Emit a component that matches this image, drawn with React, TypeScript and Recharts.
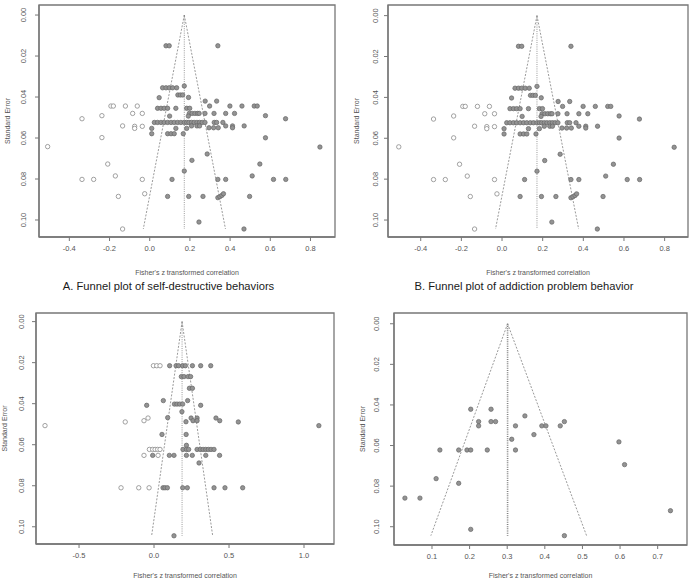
import React from 'react';
import { ScatterChart, Scatter, XAxis, YAxis, ReferenceLine, ReferenceArea } from 'recharts';

type Pt = [number, number];

// shared ticks
const seTicks = [0, 0.02, 0.04, 0.06, 0.08, 0.1];
const xTicksTop = [-0.4, -0.2, 0, 0.2, 0.4, 0.6, 0.8];
const xTicksC = [-0.5, 0, 0.5, 1.0];
const xTicksD = [0.1, 0.2, 0.3, 0.4, 0.5, 0.6, 0.7];

const titleA = 'A. Funnel plot of self-destructive behaviors';
const titleB = 'B. Funnel plot of addiction problem behavior';
const xLabel = "Fisher's z transformed correlation";
const yLabel = 'Standard Error';

// top row (A and B show the same set of studies)
const topStudies: Pt[] = [
  [0.081, 0.015], [0.097, 0.015], [0.339, 0.015],
  [0.064, 0.0355], [0.081, 0.0355], [0.097, 0.0355], [0.114, 0.0355], [0.134, 0.0355], [0.172, 0.0346],
  [0.140, 0.039], [0.152, 0.039], [0.164, 0.039],
  [0.047, 0.0403], [0.193, 0.0402], [0.276, 0.042], [0.333, 0.042],
  [0.298, 0.0444], [0.399, 0.0444], [0.459, 0.0444], [0.520, 0.0444], [0.535, 0.0444],
  [0.039, 0.0455], [0.056, 0.0455], [0.072, 0.0455], [0.089, 0.0455], [0.130, 0.0455], [0.184, 0.0455], [0.199, 0.0455],
  [0.197, 0.048], [0.211, 0.048], [0.225, 0.048], [0.238, 0.048], [0.246, 0.048], [0.275, 0.048], [0.320, 0.048], [0.378, 0.048], [0.422, 0.048],
  [0.099, 0.0493], [0.192, 0.0493], [0.576, 0.0491], [0.676, 0.0506],
  [0.023, 0.0524], [0.039, 0.0524], [0.056, 0.0524], [0.072, 0.0524], [0.089, 0.0524], [0.106, 0.0524], [0.122, 0.0524], [0.139, 0.0524], [0.155, 0.0524], [0.172, 0.0524],
  [0.184, 0.0524], [0.195, 0.0524], [0.208, 0.0524], [0.221, 0.0524], [0.235, 0.0524], [0.248, 0.0524], [0.261, 0.0524], [0.275, 0.0524], [0.321, 0.0524], [0.333, 0.0524], [0.364, 0.0524],
  [0.208, 0.0541], [0.235, 0.0541], [0.248, 0.0541], [0.378, 0.0541], [0.412, 0.0541], [0.470, 0.0541],
  [0.295, 0.055], [0.318, 0.055], [0.341, 0.055], [0.412, 0.055],
  [0.010, 0.0553], [0.130, 0.0553], [0.184, 0.0553],
  [0.010, 0.0579], [0.089, 0.0579], [0.106, 0.0579], [0.122, 0.0579], [0.167, 0.0579],
  [0.576, 0.0599], [0.847, 0.0644], [0.286, 0.0678], [0.210, 0.0709], [0.548, 0.0727], [0.172, 0.0761], [0.510, 0.0785],
  [0.111, 0.0802], [0.339, 0.0802], [0.378, 0.0802], [0.616, 0.0802], [0.677, 0.0802],
  [0.089, 0.0885], [0.194, 0.0885], [0.265, 0.0885], [0.497, 0.0885],
  [0.339, 0.0891], [0.349, 0.0886], [0.359, 0.088], [0.367, 0.0872],
  [0.245, 0.101], [0.469, 0.1044],
];
const topImputed: Pt[] = [
  [-0.508, 0.0642], [-0.337, 0.0506], [-0.238, 0.0491], [-0.238, 0.0598],
  [-0.193, 0.0444], [-0.181, 0.0444], [-0.121, 0.0444], [-0.062, 0.0444],
  [-0.085, 0.048], [-0.037, 0.048], [-0.135, 0.0541], [-0.075, 0.0543], [-0.075, 0.0553], [-0.037, 0.0543],
  [-0.209, 0.0727], [-0.337, 0.0802], [-0.279, 0.0802], [-0.171, 0.0785], [-0.037, 0.0802],
  [-0.156, 0.0885], [-0.025, 0.0872], [-0.135, 0.1044],
];
const topFunnel = { center: 0.172, left: -0.032, right: 0.377, bottom: 0.1044 };

// bottom left
const cStudies: Pt[] = [
  [0.104, 0.0215], [0.147, 0.0215], [0.164, 0.0215], [0.191, 0.0215], [0.209, 0.0215], [0.256, 0.0215], [0.311, 0.0215], [0.378, 0.0215],
  [0.182, 0.0268], [0.2, 0.0268], [0.227, 0.0268], [0.244, 0.0268],
  [0.236, 0.0325], [0.256, 0.0325],
  [0.062, 0.0385], [0.224, 0.0385],
  [0.136, 0.0402], [0.153, 0.0402], [0.171, 0.0402], [0.191, 0.0402],
  [-0.049, 0.0408], [0.311, 0.0408], [0.186, 0.0439],
  [0.091, 0.0468], [0.247, 0.047], [0.287, 0.047], [0.413, 0.047],
  [0.260, 0.0483], [0.287, 0.0483], [0.438, 0.0483],
  [0.213, 0.0488], [0.562, 0.0489], [1.099, 0.0507],
  [0.053, 0.055], [0.214, 0.055], [0.216, 0.0603],
  [0.193, 0.0623], [0.216, 0.0623], [0.231, 0.0623], [0.287, 0.0623], [0.309, 0.0623], [0.327, 0.0623], [0.345, 0.0623], [0.362, 0.0623], [0.380, 0.0623], [0.400, 0.0623],
  [-0.009, 0.0652], [0.102, 0.0652], [0.133, 0.0652], [0.216, 0.0652], [0.255, 0.0652], [0.345, 0.0652], [0.437, 0.0652],
  [0.300, 0.0689],
  [0.060, 0.081], [0.073, 0.081], [0.089, 0.081], [0.191, 0.081], [0.222, 0.081], [0.400, 0.081], [0.473, 0.081], [0.591, 0.081],
  [0.133, 0.1044],
];
const cImputed: Pt[] = [
  [-0.727, 0.0507], [-0.192, 0.0489], [-0.067, 0.0483], [-0.040, 0.047],
  [-0.004, 0.0215], [0.018, 0.0215], [0.040, 0.0215],
  [-0.031, 0.0623], [-0.009, 0.0623], [0.007, 0.0623], [0.024, 0.0623], [0.040, 0.0623],
  [-0.067, 0.0652], [0.027, 0.0652],
  [-0.220, 0.081], [-0.102, 0.081], [-0.033, 0.081],
];
const cFunnel = { center: 0.187, left: -0.016, right: 0.391, bottom: 0.1044 };

// bottom right
const dStudies: Pt[] = [
  [0.028, 0.0859], [0.068, 0.0859], [0.111, 0.0763], [0.121, 0.0622], [0.171, 0.0622], [0.171, 0.0786],
  [0.193, 0.0622], [0.203, 0.0622], [0.203, 0.0421], [0.203, 0.1013],
  [0.224, 0.0482], [0.224, 0.0503], [0.247, 0.0622], [0.257, 0.0421], [0.257, 0.0482], [0.269, 0.0482],
  [0.312, 0.0569], [0.322, 0.0503], [0.322, 0.0622], [0.347, 0.0454], [0.371, 0.0546],
  [0.392, 0.0503], [0.403, 0.0503], [0.441, 0.0503], [0.452, 0.0482], [0.452, 0.1044],
  [0.597, 0.0582], [0.612, 0.0694], [0.734, 0.0921],
];
const dImputed: Pt[] = [];
const dFunnel = { center: 0.301, left: 0.097, right: 0.511, bottom: 0.1044 };

const FONT = '"Liberation Sans", Arial, sans-serif';
const INK = '#555';
const FRAME = '#777777';

const toRows = (pts: Pt[]) => pts.map(([x, y]) => ({ x, y }));

const filledDot = (p: any) => (
  <circle cx={p.cx} cy={p.cy} r={2.2} fill="#939393" stroke="#666" strokeWidth={0.7} />
);
const openDot = (p: any) => (
  <circle cx={p.cx} cy={p.cy} r={2.2} fill="#fff" stroke="#8a8a8a" strokeWidth={0.8} />
);

// rotated SE labels, baseline at a fixed x inside the axis band
const makeYTick = (baseX: number) => (props: any) => {
  const { y, payload } = props;
  return (
    <text x={baseX} y={y} transform={`rotate(-90 ${baseX} ${y})`} textAnchor="middle" fontSize={7.5} fill={INK} fontFamily={FONT}>
      {Number(payload.value).toFixed(2)}
    </text>
  );
};

interface PanelProps {
  left: number;
  top: number;
  width: number;
  height: number;
  margin: { top: number; right: number; bottom: number; left: number };
  yAxisWidth: number;
  xAxisHeight: number;
  xDomain: [number, number];
  yDomain: [number, number];
  xTicks: number[];
  studies: Pt[];
  imputed: Pt[];
  funnel: { center: number; left: number; right: number; bottom: number };
  yLabelOffset: number;
  yTickBase: number;
  xLabelOffset: number;
  centerWidth?: number;
}

function FunnelPanel(p: PanelProps) {
  const { funnel } = p;
  const frameLine = { stroke: FRAME, strokeWidth: 1.3 };
  return (
    <div style={{ position: 'absolute', left: p.left, top: p.top }}>
      <ScatterChart width={p.width} height={p.height} margin={p.margin}>
        <XAxis
          type="number"
          dataKey="x"
          domain={p.xDomain}
          allowDataOverflow
          ticks={p.xTicks}
          interval={0}
          tickFormatter={(v: number) => v.toFixed(1)}
          axisLine={frameLine}
          tickLine={{ stroke: FRAME }}
          tickSize={4}
          tickMargin={5}
          tick={{ fontSize: 7.5, fill: INK, fontFamily: FONT }}
          height={p.xAxisHeight}
          label={{ value: xLabel, position: 'insideBottom', offset: p.xLabelOffset, fontSize: 7, fill: INK, fontFamily: FONT }}
        />
        <YAxis
          type="number"
          dataKey="y"
          reversed
          domain={p.yDomain}
          allowDataOverflow
          ticks={seTicks}
          interval={0}
          axisLine={frameLine}
          tickLine={{ stroke: FRAME }}
          tickSize={4}
          width={p.yAxisWidth}
          tick={makeYTick(p.yTickBase)}
          label={{ value: yLabel, angle: -90, position: 'insideLeft', offset: p.yLabelOffset, fontSize: 7, fill: INK, fontFamily: FONT, style: { textAnchor: 'middle' } }}
        />
        {/* plot frame, like R's box() */}
        <ReferenceArea
          x1={p.xDomain[0]}
          x2={p.xDomain[1]}
          y1={p.yDomain[0]}
          y2={p.yDomain[1]}
          fill="#ffffff"
          fillOpacity={0}
          stroke={FRAME}
          strokeWidth={1.3}
          strokeOpacity={1}
        />
        <ReferenceLine
          segment={[{ x: funnel.center, y: 0 }, { x: funnel.left, y: funnel.bottom }]}
          stroke="#808080"
          strokeWidth={0.8}
          strokeDasharray="2 1.5"
        />
        <ReferenceLine
          segment={[{ x: funnel.center, y: 0 }, { x: funnel.right, y: funnel.bottom }]}
          stroke="#808080"
          strokeWidth={0.8}
          strokeDasharray="2 1.5"
        />
        <ReferenceLine
          segment={[{ x: funnel.center, y: 0 }, { x: funnel.center, y: funnel.bottom }]}
          stroke="#808080"
          strokeWidth={p.centerWidth ?? 0.8}
          strokeDasharray="1 1.2"
        />
        <Scatter data={toRows(p.imputed)} shape={openDot} isAnimationActive={false} />
        <Scatter data={toRows(p.studies)} shape={filledDot} isAnimationActive={false} />
      </ScatterChart>
    </div>
  );
}

const titleStyle: React.CSSProperties = {
  position: 'absolute',
  top: 279,
  width: 300,
  textAlign: 'center',
  fontFamily: FONT,
  fontSize: 11.2,
  lineHeight: '14px',
  color: '#1a1a1a',
  whiteSpace: 'nowrap',
};

export default function App() {
  return (
    <div style={{ position: 'absolute', left: 0, top: 0, width: 691, height: 578, overflow: 'hidden', background: '#fff' }}>
      <FunnelPanel
        left={0} top={0} width={345} height={285}
        margin={{ top: 5, right: 10, bottom: 0, left: 0 }}
        yAxisWidth={39} xAxisHeight={48}
        xDomain={[-0.551, 0.922]} yDomain={[-0.0049, 0.1083]}
        xTicks={xTicksTop}
        studies={topStudies} imputed={topImputed} funnel={topFunnel}
        yLabelOffset={8} yTickBase={26} xLabelOffset={10}
      />
      <FunnelPanel
        left={345} top={0} width={346} height={285}
        margin={{ top: 5, right: 3, bottom: 0, left: 0 }}
        yAxisWidth={43} xAxisHeight={48}
        xDomain={[-0.561, 0.915]} yDomain={[-0.0052, 0.1083]}
        xTicks={xTicksTop}
        studies={topStudies} imputed={topImputed} funnel={topFunnel}
        yLabelOffset={12} yTickBase={33} xLabelOffset={10}
      />
      <FunnelPanel
        left={0} top={300} width={345} height={278}
        margin={{ top: 13, right: 11, bottom: 0, left: 0 }}
        yAxisWidth={36} xAxisHeight={34}
        xDomain={[-0.787, 1.2]} yDomain={[-0.0042, 0.1084]}
        xTicks={xTicksC}
        studies={cStudies} imputed={cImputed} funnel={cFunnel}
        yLabelOffset={5} yTickBase={24} xLabelOffset={0}
      />
      <FunnelPanel
        left={345} top={300} width={346} height={278}
        margin={{ top: 13, right: 4, bottom: 0, left: 0 }}
        yAxisWidth={49} xAxisHeight={33}
        xDomain={[-0.001, 0.778]} yDomain={[-0.0053, 0.109]}
        xTicks={xTicksD}
        studies={dStudies} imputed={dImputed} funnel={dFunnel}
        yLabelOffset={18} yTickBase={34} xLabelOffset={0}
        centerWidth={1.6}
      />
      <div style={{ ...titleStyle, left: 168.5 - 150 }}>{titleA}</div>
      <div style={{ ...titleStyle, left: 524 - 150 }}>{titleB}</div>
    </div>
  );
}
